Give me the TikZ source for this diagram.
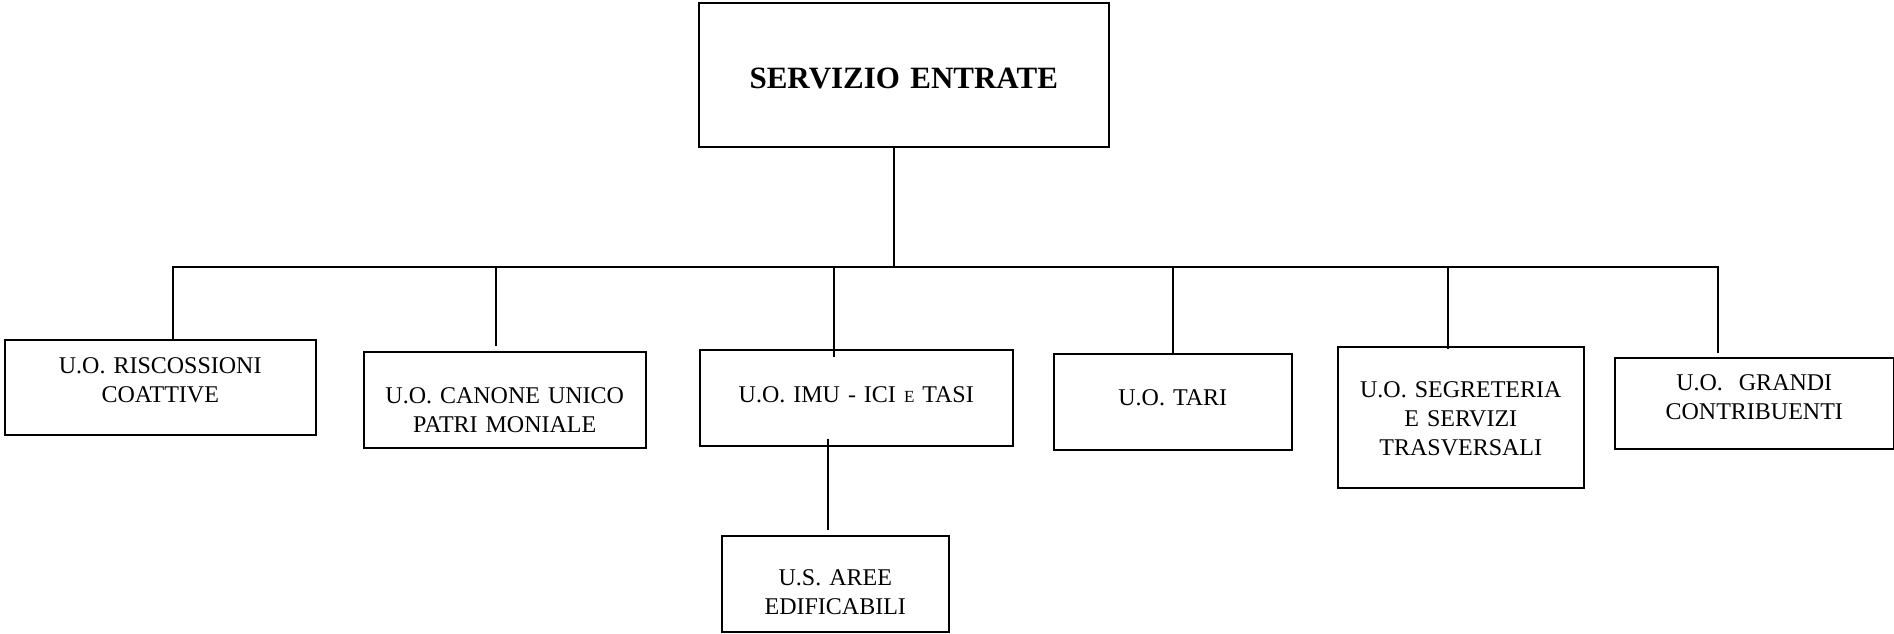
\documentclass[tikz,border=0pt]{standalone}
\usepackage{fontspec}
\setmainfont{Liberation Serif}
\usetikzlibrary{calc}

\begin{document}
\begin{tikzpicture}[
  x=1pt, y=-1pt,
  unit/.style={draw,line width=1.5pt,inner sep=0pt,align=center,anchor=north west,
    font=\fontsize{24}{29}\selectfont},
  head/.style={unit,font=\bfseries\fontsize{31}{36}\selectfont},
  dims/.style n args={3}{text width=#1pt,text height=#2pt,text depth=#3pt},
  link/.style={line width=1.5pt}
]
\useasboundingbox (0,0) rectangle (1894,633);

% Top box
\node[head,dims={410}{86}{58}] (chief) at (698,2) {SERVIZIO ENTRATE};

% Units (first row)
\node[unit,dims={311}{34}{61}] (ric)  at (4,339)    {U.O. RISCOSSIONI\\COATTIVE};
\node[unit,dims={282}{52}{44}] (can)  at (363,351)  {U.O. CANONE UNICO\\PATRI MONIALE};
\node[unit,dims={313}{53}{43}] (imu)  at (699,349)  {U.O. IMU - ICI {\fontsize{17}{29}\selectfont E} TASI};
\node[unit,dims={238}{52}{44}] (tari) at (1053,353) {U.O. TARI};
\node[unit,dims={246}{51}{90}] (segr) at (1337,346) {U.O. SEGRETERIA\\E SERVIZI\\TRASVERSALI};
\node[unit,dims={279}{33}{58}] (gra)  at (1614,357) {U.O.~~GRANDI\\CONTRIBUENTI};

% Sub unit
\node[unit,dims={227}{50}{46}] (aree) at (721,535)  {U.S. AREE\\EDIFICABILI};

% Bus
\coordinate (bus)  at (894,267);
\coordinate (busL) at (173,267);
\coordinate (busR) at (1718,267);
\draw[link] (chief.south -| bus) -- (bus);
\draw[link] (ric.north -| busL) -- (busL) -- (busR) -- ($(gra.north -| busR)+(0,-4)$);

% Drops
\foreach \n/\x/\d in {can/496/-5, imu/834/8, tari/1173/0, segr/1448/3}{
  \draw[link] (bus -| \x,0) -- ($(\n.north -| \x,0)+(0,\d)$);
}
\draw[link] ($(imu.south -| 828,0)+(0,-8)$) -- ($(aree.north -| 828,0)+(0,-5)$);
\end{tikzpicture}
\end{document}
